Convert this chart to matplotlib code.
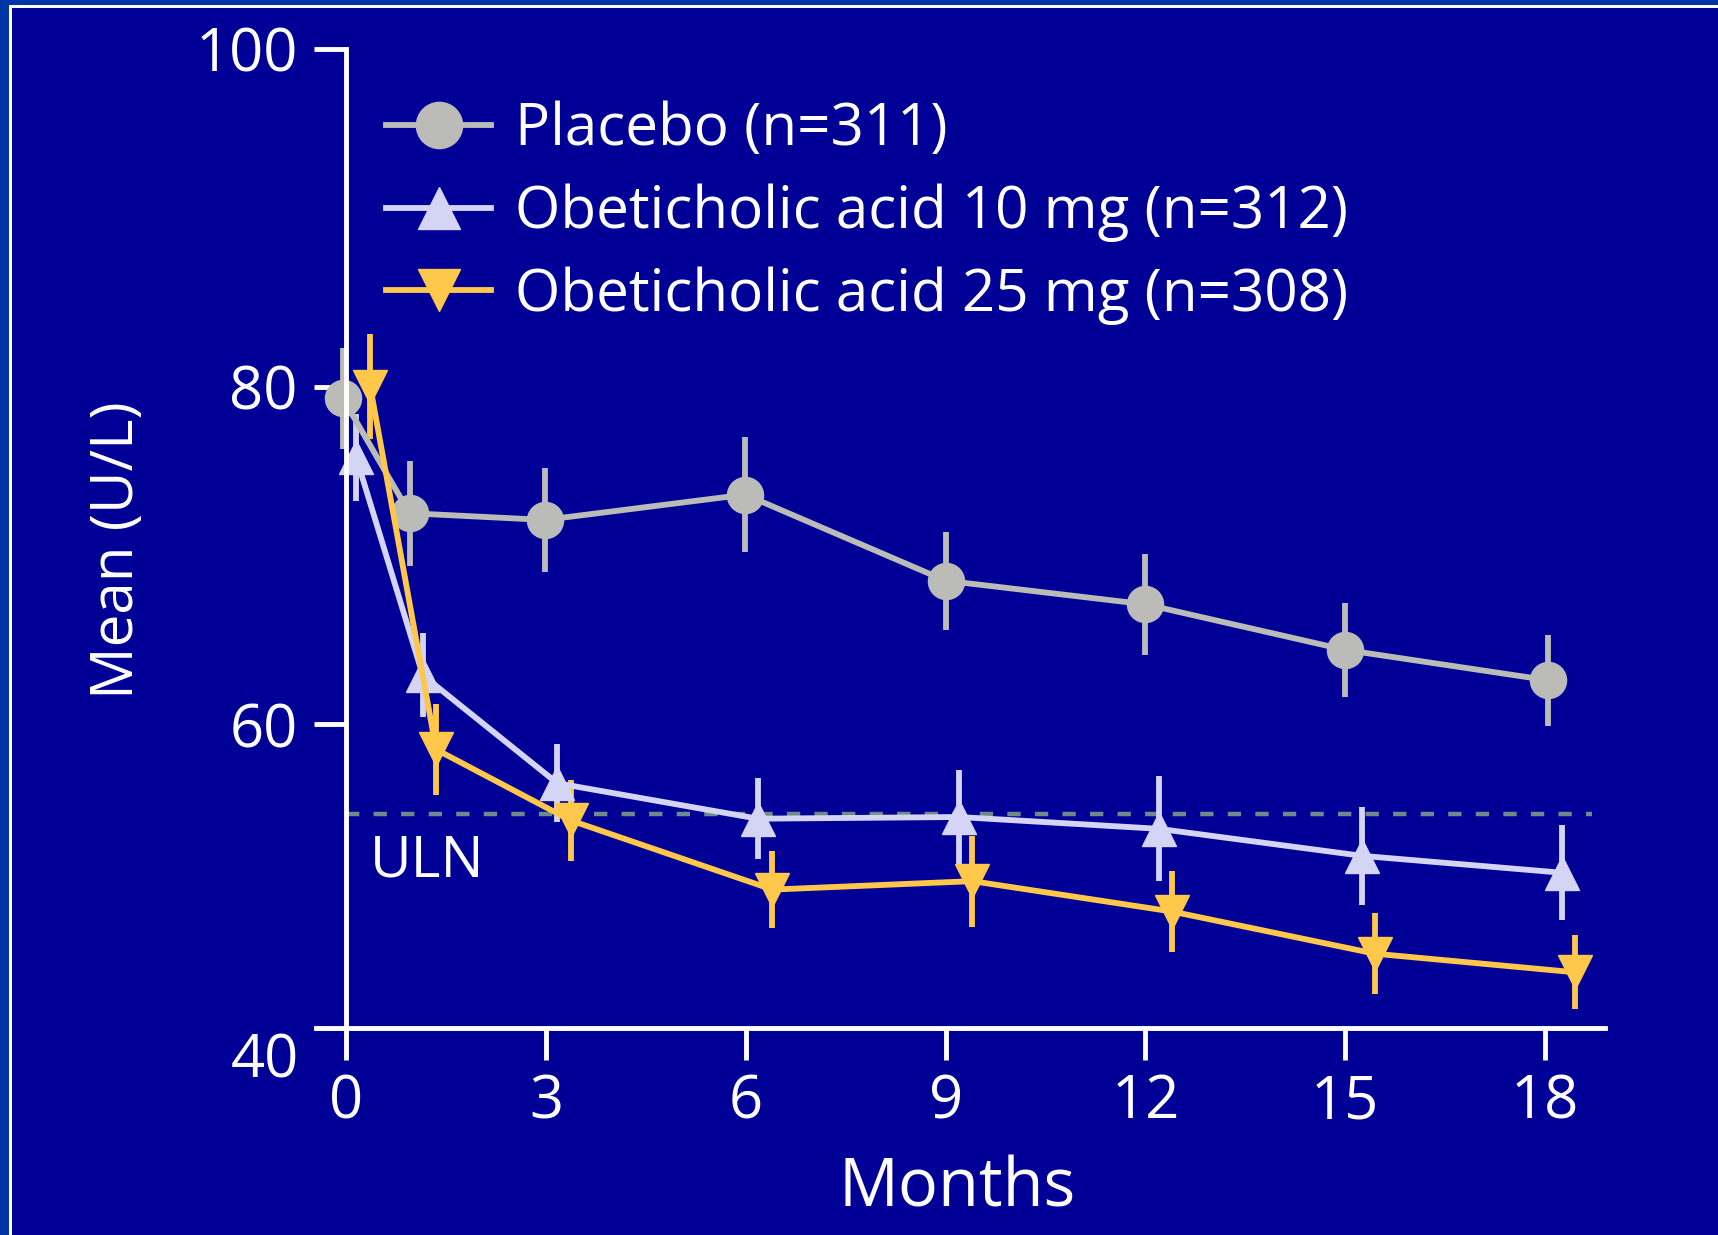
import matplotlib.pyplot as plt
from matplotlib.patches import Rectangle
from matplotlib.lines import Line2D

plt.rcParams['font.family'] = ['Open Sans', 'DejaVu Sans']

# Mean (U/L) by month, three treatment groups; x slightly staggered per group
placebo_x = [-0.05, 0.95, 2.98, 5.99, 9.0, 12.0, 15.0, 18.05]
placebo_mean = [79.3, 72.5, 72.1, 73.6, 68.5, 67.1, 64.4, 62.6]
placebo_err = [3.0, 3.1, 3.1, 3.4, 2.9, 3.0, 2.8, 2.7]

oca10_x = [0.15, 1.15, 3.17, 6.18, 9.2, 12.2, 15.25, 18.25]
oca10_mean = [75.8, 62.9, 56.5, 54.4, 54.5, 53.8, 52.2, 51.2]
oca10_err = [2.6, 2.5, 2.3, 2.4, 2.8, 3.1, 2.9, 2.8]

oca25_x = [0.36, 1.35, 3.37, 6.4, 9.4, 12.4, 15.45, 18.45]
oca25_mean = [80.0, 58.5, 54.3, 50.2, 50.7, 48.9, 46.4, 45.3]
oca25_err = [3.1, 2.7, 2.4, 2.3, 2.7, 2.4, 2.4, 2.2]

labels = ['Placebo (n=311)', 'Obeticholic acid 10 mg (n=312)',
          'Obeticholic acid 25 mg (n=308)']
uln = 54.7
xticks = [0, 3, 6, 9, 12, 15, 18]
yticks = [60, 80, 100]

W, H = 1718, 1235
fig = plt.figure(figsize=(W / 100, H / 100), dpi=100, facecolor='#0035A5')

# slide frame: white rule and dark panel, kept behind the axes
fig.patches.append(Rectangle((9 / W, 0), 1, 1 - 5 / H, transform=fig.transFigure,
                             facecolor='white', edgecolor='none', zorder=-2))
fig.patches.append(Rectangle((12 / W, 0), 1, 1 - 8 / H, transform=fig.transFigure,
                             facecolor='#000096', edgecolor='none', zorder=-1))

ax = fig.add_axes([315.6 / W, 1 - 1028 / H, (1605 - 315.6) / W, (1028 - 49) / H])
ax.patch.set_visible(False)

series = [
    (placebo_x, placebo_mean, placebo_err, 'o', '#BBBCB8', 26),
    (oca10_x, oca10_mean, oca10_err, '^', '#D4D4F4', 24),
    (oca25_x, oca25_mean, oca25_err, 'v', '#FFC84A', 24),
]
handles = []
for x, m, e, mk, col, ms in series:
    ax.errorbar(x, m, yerr=e, fmt='-', marker=mk, color=col, ms=ms, mec=col,
                lw=4.2, elinewidth=4.2, capsize=0)
    handles.append(Line2D([], [], color=col, lw=4.2, marker=mk, ms=ms, mec=col))

ax.plot([0, 18.7], [uln, uln], color='#6F8A8A', lw=3.2, dashes=(3, 3.2), zorder=1)
ax.text(0.35, 51.85, 'ULN', color='white', fontsize=41, va='center', ha='left')

ax.set_xlim(-0.46, 18.9)
ax.set_ylim(42, 100)
ax.spines['left'].set_position(('data', 0))
ax.spines['right'].set_visible(False)
ax.spines['top'].set_visible(False)
for s in ['left', 'bottom']:
    ax.spines[s].set_color('white')
    ax.spines[s].set_linewidth(3.5)

ax.set_xticks(xticks)
ax.set_yticks(yticks)
ax.tick_params(colors='white', labelsize=43, width=3.5, length=23)
ax.tick_params(axis='x', pad=9)
ax.tick_params(axis='y', pad=12)
ax.annotate('40', xy=(-0.46, 40), xytext=(-12, 0), textcoords='offset points',
            ha='right', va='center', color='white', fontsize=43,
            annotation_clip=False)

fig.text(957 / W, 1 - 1189 / H, 'Months', color='white', fontsize=48,
         ha='center', va='center')
fig.text(118 / W, 1 - 550 / H, 'Mean (U/L)', color='white', fontsize=42,
         ha='center', va='center', rotation=90)

leg = ax.legend(handles, labels, loc='upper left',
                bbox_to_anchor=(386 / W, 1 - 101 / H),
                bbox_transform=fig.transFigure, frameon=False, fontsize=42,
                handlelength=1.8, handletextpad=0.41, labelspacing=0.415,
                borderpad=0, borderaxespad=0, markerscale=1.28)
for t in leg.get_texts():
    t.set_color('white')

fig.savefig('out.png', dpi=100, facecolor=fig.get_facecolor())
